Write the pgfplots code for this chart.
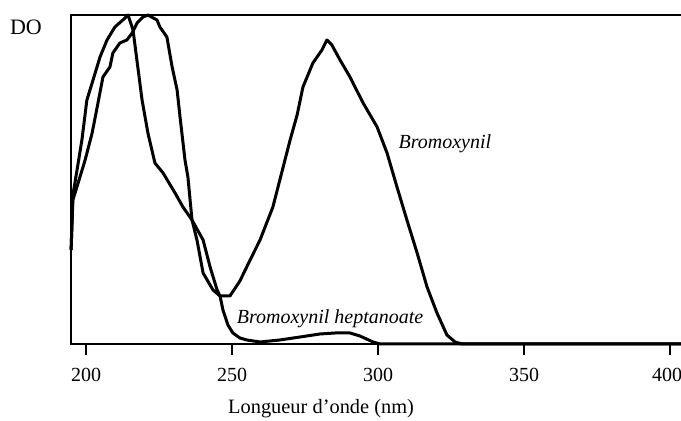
\documentclass[border=0pt]{standalone}
\usepackage{fontspec}
\setmainfont{Liberation Serif}
\usepackage{pgfplots}
\pgfplotsset{compat=1.18}
\begin{document}
\begin{tikzpicture}
\begin{axis}[
  scale only axis,
  width=309.5pt, height=164.5pt,
  xmin=194.86, xmax=406.85, ymin=0, ymax=329,
  axis line style={line width=1pt},
  xtick={200,250,300,350,400},
  xticklabels={200,250,300,350,{\hspace*{-3pt}400}},
  xtick pos=bottom,
  tick align=outside,
  major tick length=5.5pt,
  every tick/.style={line width=1pt, black},
  ytick=\empty,
  /pgf/number format/assume math mode=true,
  tick label style={font=\fontsize{10}{12}\selectfont},
  xticklabel style={yshift=-3pt},
  xlabel={Longueur d'onde (nm)},
  xlabel style={at={(axis description cs:0.404,0)}, anchor=center, yshift=-32.5pt, font=\fontsize{10.2}{12}\selectfont},
  clip=false,
]
\addplot[black, line width=1.5pt, line join=round] coordinates {
(194.9,94) (195.5,144) (197.3,161) (199.7,184) (202.1,211) (204.1,241) (205.8,267) (208.2,277) (209.2,291) (211.6,301) (214.0,304) (215.8,311) (217.5,321) (219.5,327) (221.2,329) (224.3,324) (225.3,317) (227.7,307) (229.5,277) (231.2,254) (232.2,227) (233.9,184) (234.9,167) (236.3,124) (238.0,104) (240.1,71) (243.5,54) (245.9,48) (249.3,48) (252.7,63) (256.2,84) (259.6,104) (264.0,137) (269.9,204) (272.3,229) (274.3,257) (277.7,281) (280.8,294) (282.5,304) (284.2,299) (287.0,284) (290.4,267) (294.9,241) (299.7,217) (303.1,191) (306.5,157) (309.9,124) (313.4,91) (316.8,57) (320.2,31) (323.6,9) (326.4,2) (328.8,0) (406.8,0)
};
\addplot[black, line width=1.5pt, line join=round] coordinates {
(194.9,94) (195.5,149) (196.2,161) (198.6,204) (200.3,244) (202.1,261) (204.8,287) (207.2,304) (209.9,317) (213.4,326) (214.4,329) (216.1,314) (219.2,244) (221.2,211) (223.6,181) (226.4,171) (230.5,151) (233.2,137) (236.3,124) (240.1,104) (242.5,77) (244.9,54) (245.9,48) (246.9,34) (248.6,19) (250.3,11) (252.7,6) (255.1,4) (259.6,2) (266.4,4) (273.3,7) (280.1,10) (285.3,11) (290.4,11) (293.8,8) (298.3,2) (300.7,0) (406.8,0)
};
\node[font=\fontsize{10}{12}\selectfont\itshape] at (axis cs:322.9,200) {Bromoxynil};
\node[font=\fontsize{10}{12}\selectfont\itshape] at (axis cs:283.6,25) {Bromoxynil heptanoate};
\node[font=\fontsize{11}{13}\selectfont] at (axis description cs:-0.0727,0.9635) {DO};
\end{axis}
\pgfresetboundingbox
\useasboundingbox ([xshift=-35.5pt,yshift=-38.5pt]current axis.south west) rectangle ([xshift=305pt,yshift=172pt]current axis.south west);
\end{tikzpicture}
\end{document}
